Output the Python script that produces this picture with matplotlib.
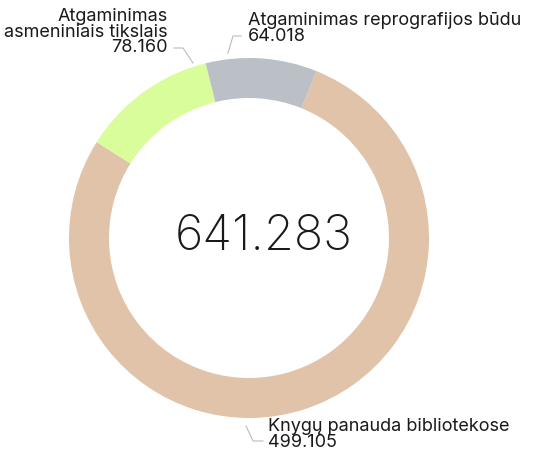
import matplotlib
matplotlib.use("Agg")
import matplotlib.pyplot as plt

# dati (ordine in senso orario dal tratto a destra in alto)
labels = ["Knygų panauda bibliotekose", "Atgaminimas\nasmeniniais tikslais", "Atgaminimas reprografijos būdu"]
values = [499.105, 78.160, 64.018]
value_labels = ["499.105", "78.160", "64.018"]
total_label = "641.283"
colors = ["#e0c3a8", "#d8fd9a", "#bac0c6"]

plt.rcParams['font.family'] = ['Inter', 'DejaVu Sans']

W, H = 546, 458
fig = plt.figure(figsize=(W / 100, H / 100), dpi=100)
ax = fig.add_axes([0, 0, 1, 1])


def py(y):
    # pixel dall'alto -> coordinata asse
    return H - y


cx, cy, R = 249, 238, 180
ax.pie(values, colors=colors, startangle=68, counterclock=False,
       radius=R, center=(cx, py(cy)), frame=True,
       wedgeprops=dict(width=40, linewidth=0))
ax.set_xlim(0, W)
ax.set_ylim(0, H)
ax.set_aspect('equal')
ax.axis('off')

# numero centrale
ax.text(264, py(237), total_label, ha='center', va='center',
        fontsize=35, fontweight='light', color='#1a1a1a')

txt = dict(fontsize=13, color='#1a1a1a', linespacing=0.9)
line = dict(color='#bbbbbb', lw=0.8)

# etichetta asmeniniais tikslais
ax.text(168, py(8), labels[1] + "\n" + value_labels[1], ha='right', va='top', **txt)
ax.plot([174, 183, 193], [py(48), py(48), py(63)], **line)

# etichetta reprografijos
ax.text(248, py(12), labels[2] + "\n" + value_labels[2], ha='left', va='top', **txt)
ax.plot([241, 233, 228], [py(36), py(36), py(53)], **line)

# etichetta bibliotekose
ax.text(268, py(418), labels[0] + "\n" + value_labels[0], ha='left', va='top', **txt)
ax.plot([246, 253, 263], [py(426), py(441), py(441)], **line)

fig.savefig("out.png", dpi=100)
